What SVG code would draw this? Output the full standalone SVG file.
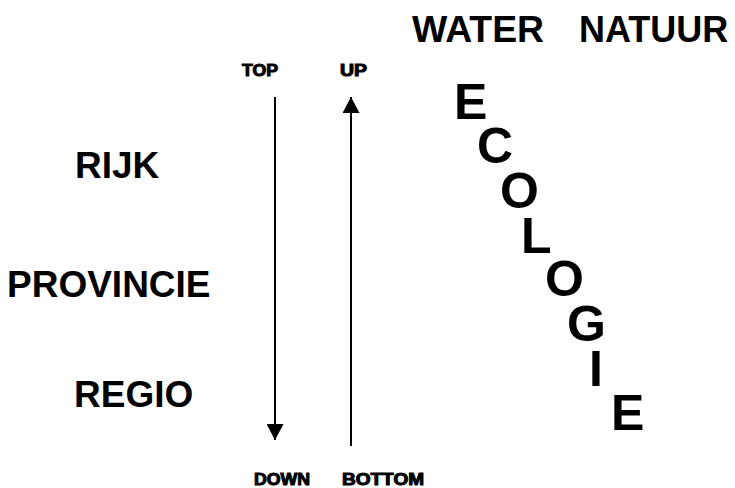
<svg xmlns="http://www.w3.org/2000/svg" width="735" height="488" viewBox="0 0 735 488">
<defs>
<style>
text{font-family:"Liberation Sans",Arial,sans-serif;font-weight:bold;fill:#000}
.big{font-size:37px}
.hdr{font-size:36px}
.eco{font-size:50px}
.small{font-size:16px;stroke:#000;stroke-width:1}
.ln{stroke:#000;stroke-width:2;fill:none}
</style>
<marker id="ah" viewBox="0 0 16 17" refX="16" refY="8.5" markerUnits="userSpaceOnUse" markerWidth="16" markerHeight="17" orient="auto">
<path d="M0,0 L16,8.5 L0,17 Z" fill="#000"/>
</marker>
</defs>
<rect width="735" height="488" fill="#fff"/>
<g id="levels">
<text id="rijk" class="big" x="75" y="178">RIJK</text>
<text id="provincie" class="big" x="7" y="297">PROVINCIE</text>
<text id="regio" class="big" x="74" y="407">REGIO</text>
</g>
<g id="headers">
<text id="water" class="hdr" x="412" y="42" textLength="132" lengthAdjust="spacingAndGlyphs">WATER</text>
<text id="natuur" class="hdr" x="579" y="42">NATUUR</text>
</g>
<g id="labels">
<text id="top" class="small" x="242" y="76" textLength="36" lengthAdjust="spacingAndGlyphs">TOP</text>
<text id="up" class="small" x="340" y="76" textLength="27" lengthAdjust="spacingAndGlyphs">UP</text>
<text id="down" class="small" x="254" y="485" textLength="56" lengthAdjust="spacingAndGlyphs">DOWN</text>
<text id="bottom" class="small" x="342" y="485" textLength="82" lengthAdjust="spacingAndGlyphs">BOTTOM</text>
</g>
<g id="connectors">
<line class="ln" x1="275" y1="97" x2="275" y2="440" marker-end="url(#ah)"/>
<line class="ln" x1="351" y1="446" x2="351" y2="97" marker-end="url(#ah)"/>
</g>
<g id="ecologie">
<text class="eco" x="454 477 500 521 545 567 589 611" y="119 163 208 253 296 341 386 430">ECOLOGIE</text>
</g>
</svg>
